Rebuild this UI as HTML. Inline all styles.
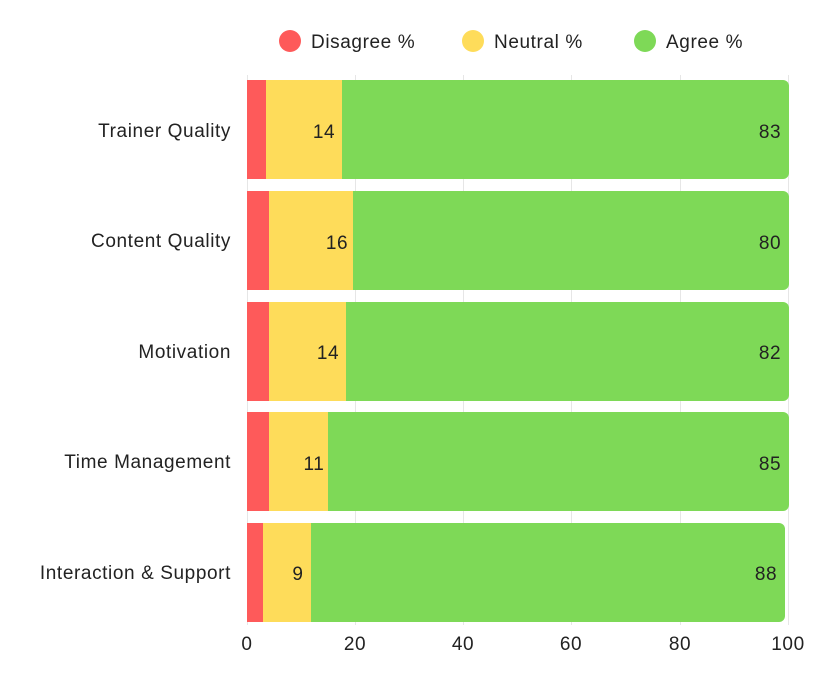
<!DOCTYPE html>
<html><head><meta charset="utf-8"><style>
body{margin:0;background:#fff;}
svg text{font-family:"Liberation Sans",sans-serif;fill:#222;letter-spacing:0.6px;}
</style></head>
<body>
<svg width="827" height="670" xmlns="http://www.w3.org/2000/svg">
<rect width="827" height="670" fill="#fff"/>
<g stroke="#e6e6e6" stroke-width="1">
<line x1="247.5" y1="75" x2="247.5" y2="625"/>
<line x1="355.5" y1="75" x2="355.5" y2="625"/>
<line x1="463.5" y1="75" x2="463.5" y2="625"/>
<line x1="571.5" y1="75" x2="571.5" y2="625"/>
<line x1="680.5" y1="75" x2="680.5" y2="625"/>
<line x1="788.5" y1="75" x2="788.5" y2="625"/>
</g>
<circle cx="290" cy="41" r="11" fill="#fe5a5a"/>
<text x="311" y="48" font-size="19">Disagree %</text>
<circle cx="473" cy="41" r="11" fill="#fedc5a"/>
<text x="494" y="48" font-size="19">Neutral %</text>
<circle cx="645" cy="41" r="11" fill="#7ed957"/>
<text x="666" y="48" font-size="19">Agree %</text>
<g>
<path d="M342 80 H783 a6 6 0 0 1 6 6 V173 a6 6 0 0 1 -6 6 H342Z" fill="#7ed957"/>
<rect x="266" y="80" width="76" height="99" fill="#fedc5a"/>
<rect x="247" y="80" width="19" height="99" fill="#fe5a5a"/>
<text x="324" y="138" font-size="19" text-anchor="middle">14</text>
<text x="770" y="138" font-size="19" text-anchor="middle">83</text>
<text x="231" y="137" font-size="19" text-anchor="end">Trainer Quality</text>

<path d="M353 191 H783 a6 6 0 0 1 6 6 V284 a6 6 0 0 1 -6 6 H353Z" fill="#7ed957"/>
<rect x="269" y="191" width="84" height="99" fill="#fedc5a"/>
<rect x="247" y="191" width="22" height="99" fill="#fe5a5a"/>
<text x="337" y="249" font-size="19" text-anchor="middle">16</text>
<text x="770" y="249" font-size="19" text-anchor="middle">80</text>
<text x="231" y="247" font-size="19" text-anchor="end">Content Quality</text>

<path d="M346 302 H783 a6 6 0 0 1 6 6 V395 a6 6 0 0 1 -6 6 H346Z" fill="#7ed957"/>
<rect x="269" y="302" width="77" height="99" fill="#fedc5a"/>
<rect x="247" y="302" width="22" height="99" fill="#fe5a5a"/>
<text x="328" y="359" font-size="19" text-anchor="middle">14</text>
<text x="770" y="359" font-size="19" text-anchor="middle">82</text>
<text x="231" y="358" font-size="19" text-anchor="end">Motivation</text>

<path d="M328 412 H783 a6 6 0 0 1 6 6 V505 a6 6 0 0 1 -6 6 H328Z" fill="#7ed957"/>
<rect x="269" y="412" width="59" height="99" fill="#fedc5a"/>
<rect x="247" y="412" width="22" height="99" fill="#fe5a5a"/>
<text x="314" y="470" font-size="19" text-anchor="middle">11</text>
<text x="770" y="470" font-size="19" text-anchor="middle">85</text>
<text x="231" y="468" font-size="19" text-anchor="end">Time Management</text>

<path d="M311 523 H779 a6 6 0 0 1 6 6 V616 a6 6 0 0 1 -6 6 H311Z" fill="#7ed957"/>
<rect x="263" y="523" width="48" height="99" fill="#fedc5a"/>
<rect x="247" y="523" width="16" height="99" fill="#fe5a5a"/>
<text x="298" y="580" font-size="19" text-anchor="middle">9</text>
<text x="766" y="580" font-size="19" text-anchor="middle">88</text>
<text x="231" y="579" font-size="19" text-anchor="end">Interaction &amp; Support</text>
</g>
<g font-size="19" text-anchor="middle">
<text x="247" y="650">0</text>
<text x="355" y="650">20</text>
<text x="463" y="650">40</text>
<text x="571" y="650">60</text>
<text x="680" y="650">80</text>
<text x="788" y="650">100</text>
</g>
</svg>
</body></html>
